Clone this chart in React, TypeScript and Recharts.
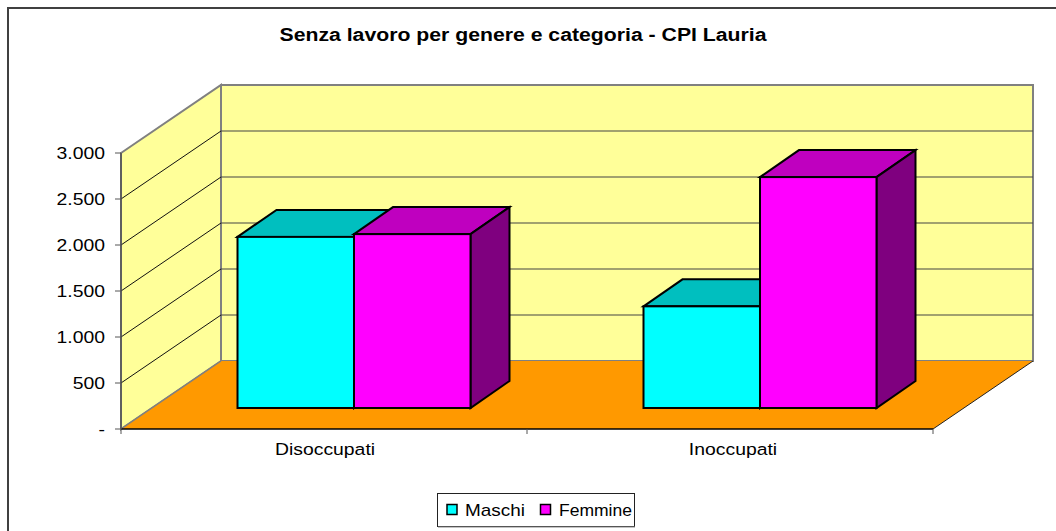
import { BarChart, Bar, XAxis, YAxis, Legend } from 'recharts';

const categories = ['Disoccupati', 'Inoccupati'];
const maschi = [1860, 1105];
const femmine = [1890, 2510];
const yTicks = [0, 500, 1000, 1500, 2000, 2500, 3000];
const yMax = 3000;

const W = 1056;
const H = 531;
// front plane of the 3D box
const LEFT = 121;
const RIGHT = 933;
const TOP = 153;
const BOTTOM = 429;
// how far the back wall is pushed from the front plane
const DEPTH_X = 100;
const DEPTH_Y = 68;
// bars stand a bit inside the floor
const BAR_SHIFT_X = 29.5;
const BAR_SHIFT_Y = 21;
const BAR_DEPTH_X = 39;
const BAR_DEPTH_Y = 27;
const LEGEND_H = 35;
// the source image is stretched sideways
const STRETCH = 1.14;

const FONT = '"Liberation Sans", Arial, sans-serif';

const data = categories.map((name, i) => ({ name, Maschi: maschi[i], Femmine: femmine[i] }));

const yOf = (v: number) => BOTTOM - (v / yMax) * (BOTTOM - TOP);

// walls, floor and gridlines, Recharts has no 3D so these are drawn by hand
function Box3D() {
  const inner = yTicks.filter((t) => t > 0 && t < yMax);
  return (
    <g>
      <rect x={8} y={8} width={1200} height={700} fill="#fff" stroke="#404040" strokeWidth={2} />
      <polygon
        points={`${LEFT},${TOP} ${LEFT + DEPTH_X},${TOP - DEPTH_Y} ${LEFT + DEPTH_X},${BOTTOM - DEPTH_Y} ${LEFT},${BOTTOM}`}
        fill="#FFFF99"
        stroke="#808080"
        strokeWidth={2}
      />
      <rect
        x={LEFT + DEPTH_X}
        y={TOP - DEPTH_Y}
        width={RIGHT - LEFT}
        height={BOTTOM - TOP}
        fill="#FFFF99"
        stroke="#808080"
        strokeWidth={2}
      />
      <polygon
        points={`${LEFT},${BOTTOM} ${LEFT + DEPTH_X},${BOTTOM - DEPTH_Y} ${RIGHT + DEPTH_X},${BOTTOM - DEPTH_Y} ${RIGHT},${BOTTOM}`}
        fill="#FF9900"
      />
      <line x1={LEFT} y1={BOTTOM} x2={LEFT + DEPTH_X} y2={BOTTOM - DEPTH_Y} stroke="#808080" strokeWidth={1.5} />
      <line x1={RIGHT} y1={BOTTOM} x2={RIGHT + DEPTH_X} y2={BOTTOM - DEPTH_Y} stroke="#222" />
      {inner.map((t) => (
        <g key={t}>
          <line x1={LEFT} y1={yOf(t)} x2={LEFT + DEPTH_X} y2={yOf(t) - DEPTH_Y} stroke="#111" />
          <line x1={LEFT + DEPTH_X} y1={yOf(t) - DEPTH_Y} x2={RIGHT + DEPTH_X} y2={yOf(t) - DEPTH_Y} stroke="#444" strokeWidth={1.2} />
        </g>
      ))}
    </g>
  );
}

// front face comes from the bar scale, top and side are offset copies
function Bar3D(props: any) {
  const { x, y, width, height, front, top, side } = props;
  const x0 = x + BAR_SHIFT_X;
  const y0 = y - BAR_SHIFT_Y;
  const x1 = x0 + width;
  const y1 = y0 + height;
  return (
    <g stroke="#000" strokeWidth={2} strokeLinejoin="miter">
      <polygon
        points={`${x0},${y0} ${x0 + BAR_DEPTH_X},${y0 - BAR_DEPTH_Y} ${x1 + BAR_DEPTH_X},${y0 - BAR_DEPTH_Y} ${x1},${y0}`}
        fill={top}
      />
      <polygon
        points={`${x1},${y0} ${x1 + BAR_DEPTH_X},${y0 - BAR_DEPTH_Y} ${x1 + BAR_DEPTH_X},${y1 - BAR_DEPTH_Y} ${x1},${y1}`}
        fill={side}
      />
      <rect x={x0} y={y0} width={width} height={height} fill={front} />
    </g>
  );
}

// label in the middle of the band, tick marks on the band edges
function CategoryTick(props: any) {
  const { x, payload, index } = props;
  const band = (RIGHT - LEFT) / categories.length;
  return (
    <g>
      <text
        transform={`translate(${x + 1 + index * 2},${BOTTOM + 26}) scale(${STRETCH},1)`}
        textAnchor="middle"
        fontFamily={FONT}
        fontSize={17}
        fill="#000"
      >
        {payload.value}
      </text>
      {index === 0 && <line x1={x - band / 2} y1={BOTTOM} x2={x - band / 2} y2={BOTTOM + 5} stroke="#555" />}
      <line x1={x + band / 2} y1={BOTTOM} x2={x + band / 2} y2={BOTTOM + 5} stroke="#555" />
    </g>
  );
}

function ValueTick(props: any) {
  const { x, y, payload } = props;
  const label = payload.value === 0 ? '-' : payload.value.toLocaleString('it-IT', { useGrouping: 'always' } as any);
  return (
    <text
      transform={`translate(${x - 8},${y + 6}) scale(${STRETCH},1)`}
      textAnchor="end"
      fontFamily={FONT}
      fontSize={17}
      fill="#000"
    >
      {label}
    </text>
  );
}

function LegendBox() {
  const items = [
    { name: 'Maschi', color: '#00FFFF', iconX: 10, textX: 28, textW: 60 },
    { name: 'Femmine', color: '#FF00FF', iconX: 103.5, textX: 122, textW: 73 },
  ];
  return (
    <svg width={198} height={LEGEND_H} style={{ display: 'block' }}>
      <rect x={0.5} y={0.5} width={197} height={33} fill="#fff" stroke="#222" />
      <line x1={1} y1={34} x2={198} y2={34} stroke="#888" />
      {items.map((it) => (
        <g key={it.name}>
          <rect x={it.iconX} y={11.5} width={10} height={10} fill={it.color} stroke="#000" strokeWidth={1.5} />
          <text x={it.textX} y={23} fontFamily={FONT} fontSize={17} fill="#000" textLength={it.textW} lengthAdjust="spacingAndGlyphs">
            {it.name}
          </text>
        </g>
      ))}
    </svg>
  );
}

export default function App() {
  return (
    <div style={{ position: 'absolute', left: 0, top: 0, width: W, height: H, overflow: 'hidden', background: '#fff' }}>
      <BarChart
        width={W}
        height={H}
        data={data}
        barSize={116.5}
        barGap={0}
        barCategoryGap={0}
        margin={{ top: TOP, right: W - RIGHT, bottom: 0, left: 0 }}
      >
        <Box3D />
        <text x={523} y={41} textAnchor="middle" fontFamily={FONT} fontSize={18} fontWeight="bold" fill="#000" textLength={487} lengthAdjust="spacingAndGlyphs">
          Senza lavoro per genere e categoria - CPI Lauria
        </text>
        <XAxis
          dataKey="name"
          axisLine={{ stroke: '#000', strokeWidth: 1.5 }}
          tickLine={false}
          height={H - BOTTOM - LEGEND_H}
          interval={0}
          tick={<CategoryTick />}
        />
        <YAxis
          domain={[0, yMax]}
          ticks={yTicks}
          width={LEFT}
          interval={0}
          tickSize={6}
          axisLine={{ stroke: '#555', strokeWidth: 1.5 }}
          tickLine={{ stroke: '#555' }}
          tick={<ValueTick />}
        />
        <Bar dataKey="Maschi" fill="#00FFFF" isAnimationActive={false} shape={<Bar3D front="#00FFFF" top="#00BFBF" side="#007F7F" />} />
        <Bar dataKey="Femmine" fill="#FF00FF" isAnimationActive={false} shape={<Bar3D front="#FF00FF" top="#BF00BF" side="#7F007F" />} />
        <Legend
          content={<LegendBox />}
          wrapperStyle={{ position: 'absolute', left: 437, top: 493, width: 198, height: LEGEND_H, bottom: 'auto' }}
        />
      </BarChart>
    </div>
  );
}
